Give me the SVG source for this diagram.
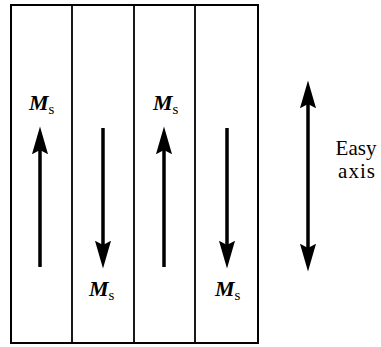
<svg xmlns="http://www.w3.org/2000/svg" width="381" height="347" viewBox="0 0 381 347">
<style>
.frame{fill:none;stroke:#000;stroke-width:2}
.div{stroke:#000;stroke-width:1.8}
.arr{stroke:#000;stroke-width:3.5;fill:none}
text{font-family:'Liberation Serif','DejaVu Serif',serif;fill:#000}
.m{font-size:22px;font-style:italic;font-weight:bold}
.sub{font-size:15px;font-style:normal;font-weight:normal}
.ea{font-size:21px}
</style>
<defs>
<marker id="head" markerUnits="userSpaceOnUse" markerWidth="30" markerHeight="20" viewBox="0 -8 28 16" refX="4" refY="0" orient="auto-start-reverse">
<path d="M0,-7.5 L26,0 L0,7.5 L4,0 Z" fill="#000"/>
</marker>
</defs>
<g id="domains">
<rect class="frame" x="11" y="5" width="247" height="338"/>
<line class="div" x1="72" y1="5" x2="72" y2="343"/>
<line class="div" x1="134" y1="5" x2="134" y2="343"/>
<line class="div" x1="195" y1="5" x2="195" y2="343"/>
</g>
<g id="connectors">
<line class="arr" x1="40" y1="267" x2="40" y2="150" marker-end="url(#head)"/>
<line class="arr" x1="103" y1="128" x2="103" y2="245" marker-end="url(#head)"/>
<line class="arr" x1="164" y1="267" x2="164" y2="150" marker-end="url(#head)"/>
<line class="arr" x1="227" y1="128" x2="227" y2="245" marker-end="url(#head)"/>
<line class="arr" x1="308" y1="104" x2="308" y2="248" marker-start="url(#head)" marker-end="url(#head)"/>
</g>
<g id="label-ms-1"><text class="m" x="29" y="110">M<tspan class="sub" dy="4">s</tspan></text></g>
<g id="label-ms-2"><text class="m" x="89" y="296">M<tspan class="sub" dy="4">s</tspan></text></g>
<g id="label-ms-3"><text class="m" x="153" y="110">M<tspan class="sub" dy="4">s</tspan></text></g>
<g id="label-ms-4"><text class="m" x="215" y="296">M<tspan class="sub" dy="4">s</tspan></text></g>
<g id="label-easy-axis">
<text class="ea" x="356" y="155" text-anchor="middle">Easy</text>
<text class="ea" x="357" y="178" text-anchor="middle" letter-spacing="1">axis</text>
</g>
</svg>
